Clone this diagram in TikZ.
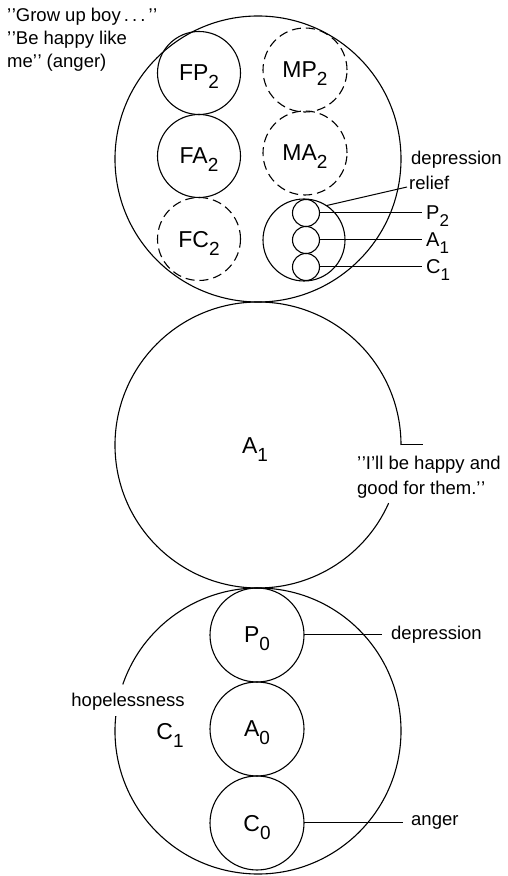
\documentclass[tikz,border=0pt]{standalone}
\usepackage{fontspec}
\setmainfont{Liberation Sans}
\newcommand{\lsub}[2][8pt]{\raisebox{-#1}[0pt][0pt]{\fontsize{19}{19}\selectfont #2}}
\newcommand{\ssub}[1]{\raisebox{-7pt}[0pt][0pt]{\fontsize{17}{17}\selectfont #1}}
\newcommand{\qq}{\textquoteright\kern0.5pt\textquoteright}
\begin{document}
\begin{tikzpicture}[x=1pt,y=1pt,
  lw/.style={line width=1.1pt},
  big/.style={circle,inner sep=0pt,outer sep=0pt,minimum size=286pt},
  ring/.style={circle,draw,lw,inner sep=0pt,outer sep=0pt,text depth=0pt},
  mid/.style={ring,minimum size=83pt,font=\fontsize{23}{23}\selectfont},
  low/.style={ring,minimum size=94pt,font=\fontsize{23}{23}\selectfont},
  dsh/.style={dash pattern=on 9pt off 5pt},
  tiny/.style={ring,minimum size=27pt},
  lab/.style={font=\fontsize{18.5}{23}\selectfont,inner sep=0pt},
  sublab/.style={font=\fontsize{20}{20}\selectfont,inner sep=0pt,text depth=0pt},
  conn/.style={line width=1pt}]
\useasboundingbox (0,0) rectangle (508,876);
% top circle
\node[big,draw,lw] (T) at (258,717) {};
\node[mid] (FP) at (199,803) {FP\lsub{2}};
\node[mid] (FA) at (199,720) {FA\lsub{2}};
\node[mid,dsh] (FC) at (199,637) {FC\lsub{2}};
\node[mid,dsh,minimum size=84pt] (MP) at (305,806) {MP\lsub{2}};
\node[mid,dsh,minimum size=84pt] (MA) at (305,723) {MA\lsub{2}};
\node[ring,minimum size=82pt] (G) at (304,636) {};
\node[tiny] (s1) at (306,663) {};
\node[tiny] (s2) at (306,636) {};
\node[tiny] (s3) at (306,609) {};
\coordinate (e1) at (422,663);
\coordinate (e2) at (422,636);
\coordinate (e3) at (422,609);
\draw[conn] (s1.east) -- (e1);
\draw[conn] (s2.east) -- (e2);
\draw[conn] (s3.east) -- (e3);
\node[sublab,anchor=west] (lP2) at (426,663) {P\ssub{2}};
\node[sublab,anchor=west] (lA1) at (426,636) {A\ssub{1}};
\node[sublab,anchor=west] (lC1) at (426,609) {C\ssub{1}};
\coordinate (rel) at (407,689);
\draw[conn] (G.57) -- (rel);
\node[lab,anchor=west] (dep1) at (411,716) {depression};
\node[lab,anchor=west] (relief) at (409,693) {relief};
\node[lab,anchor=north west,align=left] (quote1) at (7,868) {\qq Grow up boy\,.\,.\,.\,\qq\\\qq Be happy like\\me\qq\ (anger)};
% middle circle
\node[big] (M) at (258,431) {};
\draw[lw] (M.0) arc[start angle=0,end angle=336,radius=143pt];
\coordinate (tk) at (423,431);
\draw[conn] (M.east) -- (tk);
\node[font=\fontsize{23}{23}\selectfont,inner sep=0pt,text depth=0pt] (A1) at (255,430) {A\lsub{1}};
\node[lab,anchor=west] (q2a) at (357,411) {\qq I\textquoteright ll be happy and};
\node[lab,anchor=west] (q2b) at (357,386) {good for them.\qq};
% bottom circle
\node[big] (B) at (258,145) {};
\draw[lw] (B.174) arc[start angle=174,end angle=521,radius=143pt];
\node[low] (P0) at (257,241) {P\lsub{0}};
\node[low] (A0) at (257,147) {A\lsub{0}};
\node[low] (C0) at (257,53) {C\lsub{0}};
\coordinate (d0) at (382,241);
\coordinate (g0) at (403,53);
\draw[conn] (P0.east) -- (d0);
\draw[conn] (C0.east) -- (g0);
\node[lab,anchor=west] (dep2) at (391,241) {depression};
\node[lab,anchor=west] (ang) at (411,54) {anger};
\node[lab] (hope) at (128,174) {hopelessness};
\node[font=\fontsize{23}{23}\selectfont,inner sep=0pt,text depth=0pt] (C1) at (170,145) {C\lsub{1}};
\end{tikzpicture}
\end{document}
